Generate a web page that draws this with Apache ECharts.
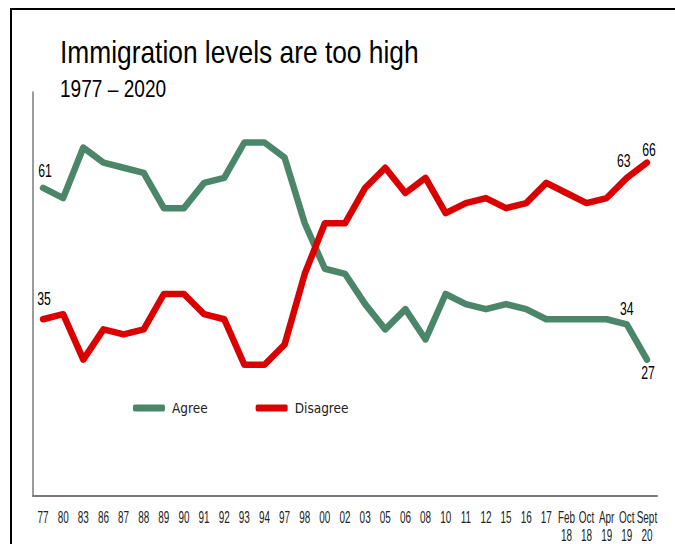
<!DOCTYPE html>
<html>
<head>
<meta charset="utf-8">
<script src="https://cdn.jsdelivr.net/npm/echarts@6/dist/echarts.min.js"></script>
<style>
html,body{margin:0;padding:0;background:#fff;}
#c{width:675px;height:544px;}
</style>
</head>
<body>
<div id="c"></div>
<script>
// ---- data ----
var categories = ['77','80','83','86','87','88','89','90','91','92','93','94','97','98','00','02','03','05','06','08','10','11','12','15','16','17','Feb\n18','Oct\n18','Apr\n19','Oct\n19','Sept\n20'];
var agree = [61,59,69,66,65,64,57,57,62,63,70,70,67,54,45,44,38,33,37,31,40,38,37,38,37,35,35,35,35,34,27];
var disagree = [35,36,27,33,32,33,40,40,36,35,26,26,30,44,54,54,61,65,60,63,56,58,59,57,58,62,60,58,59,63,66];
var titleText = 'Immigration levels are too high';
var subtitleText = '1977 – 2020';
// which points carry a value label (series index, point index)
var labelledPoints = [[0, 0], [0, 29], [0, 30], [1, 0], [1, 29], [1, 30]];

// ---- styles / label offsets (not data) ----
var labelOffsets = {'0-0': [2, -17], '0-29': [0, -16], '0-30': [1, 13], '1-0': [1, -21], '1-29': [-3, -17], '1-30': [2, -13]};
var SANS = '"Liberation Sans", Arial, sans-serif';
var COND = '"DejaVu Sans Condensed", "Liberation Sans", sans-serif';
var GREEN = '#4b866a';
var RED = '#da0000';

var chart = echarts.init(document.getElementById('c'), null, {renderer: 'svg'});

var baseOption = {
  animation: false,
  backgroundColor: '#fff',
  legend: {
    left: 133, top: 401, padding: 0,
    itemWidth: 32, itemHeight: 7, itemGap: 48,
    icon: 'roundRect',
    textStyle: {fontFamily: COND, fontSize: 13.5, color: '#222', padding: [0, 0, 0, 2]},
    data: ['Agree', 'Disagree']
  },
  grid: {left: 33, right: 18, top: 92, bottom: 48},
  xAxis: {
    type: 'category', data: categories, boundaryGap: true,
    axisLine: {lineStyle: {color: '#7a7a7a', width: 2}},
    axisTick: {show: false},
    axisLabel: {show: false}
  },
  yAxis: {
    type: 'value', min: 0, max: 80,
    axisLine: {show: true, lineStyle: {color: '#7a7a7a', width: 1.5}},
    axisTick: {show: false}, axisLabel: {show: false}, splitLine: {show: false}
  },
  series: [
    {name: 'Agree', type: 'line', data: agree, symbol: 'none', color: GREEN,
     lineStyle: {width: 6.5, color: GREEN, cap: 'round', join: 'round'}},
    {name: 'Disagree', type: 'line', data: disagree, symbol: 'none', color: RED,
     lineStyle: {width: 6.5, color: RED, cap: 'round', join: 'round'}}
  ]
};
chart.setOption(baseOption);

// ---- texts placed via the chart's own scales ----
var graphics = [
  {type: 'polyline', silent: true, shape: {points: [[11, 544], [11, 9], [675, 9]]},
   style: {stroke: '#000', lineWidth: 2, fill: null}},
  {type: 'text', x: 60, y: 52, scaleX: 0.85,
   style: {text: titleText, x: 0, y: 0, align: 'left', verticalAlign: 'middle', font: '31px ' + SANS, fill: '#000'}},
  {type: 'text', x: 60, y: 89, scaleX: 0.83,
   style: {text: subtitleText, x: 0, y: 0, align: 'left', verticalAlign: 'middle', font: '23px ' + SANS, fill: '#000'}}
];

categories.forEach(function (cat, i) {
  var px = chart.convertToPixel({xAxisIndex: 0}, i);
  var lines = cat.split('\n');
  lines.forEach(function (ln, k) {
    graphics.push({type: 'text', x: px, y: 518 + k * 17.5, scaleX: 0.62,
      style: {text: ln, x: 0, y: 0, align: 'center', verticalAlign: 'middle', font: '16px ' + SANS, fill: '#222'}});
  });
});

var seriesVals = [agree, disagree];
labelledPoints.forEach(function (lp) {
  var s = lp[0], i = lp[1];
  var v = seriesVals[s][i];
  var p = chart.convertToPixel({seriesIndex: s}, [i, v]);
  var off = labelOffsets[s + '-' + i];
  graphics.push({type: 'text', x: p[0] + off[0], y: p[1] + off[1], scaleX: 0.68,
    style: {text: String(v), x: 0, y: 0, align: 'center', verticalAlign: 'middle', font: '18px ' + SANS, fill: '#000'}});
});

chart.setOption({graphic: graphics});
</script>
</body>
</html>
